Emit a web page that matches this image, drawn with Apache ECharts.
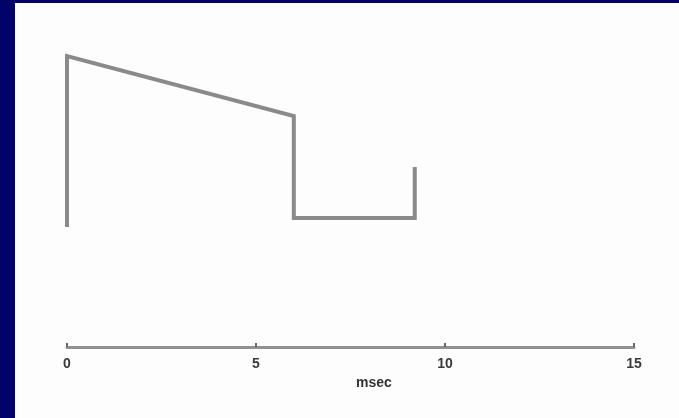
<!DOCTYPE html>
<html>
<head>
<meta charset="utf-8">
<script src="https://cdn.jsdelivr.net/npm/echarts@6/dist/echarts.min.js"></script>
<style>
html,body{margin:0;padding:0;width:679px;height:418px;background:#02026a;overflow:hidden;}
#c{position:absolute;left:15px;top:3px;width:664px;height:415px;background:#fdfdfd;}
</style>
</head>
<body>
<div id="c"></div>
<script>
// x in msec, y in arbitrary units (y axis hidden)
const xValues = [0, 0, 6, 6, 9.2, 9.2];
const yValues = [40, 97, 77, 43, 43, 60];
const xTicks = [0, 5, 10, 15];
const xAxisTitle = 'msec';

const chart = echarts.init(document.getElementById('c'));
chart.setOption({
  backgroundColor: '#fdfdfd',
  animation: false,
  grid: {left: 52, right: 45, top: 44, bottom: 71},
  xAxis: {
    type: 'value', min: 0, max: 15, interval: 5,
    axisLine: {lineStyle: {color: '#919191', width: 3}},
    axisTick: {show: true, inside: true, length: 4, lineStyle: {color: '#666', width: 2}},
    splitLine: {show: false},
    axisLabel: {
      margin: 10, color: '#3a3a3a', fontSize: 14, fontWeight: 'bold', fontFamily: 'Liberation Sans',
      formatter: v => xTicks.includes(v) ? String(v) : ''
    }
  },
  yAxis: {type: 'value', min: 0, max: 100, show: false},
  graphic: [{
    type: 'text', left: 341, top: 373,
    style: {text: xAxisTitle, fill: '#333', font: 'bold 14px "Liberation Sans"'}
  }],
  series: [{
    type: 'line',
    data: xValues.map((x, i) => [x, yValues[i]]),
    symbol: 'none',
    lineStyle: {color: '#8a8a8a', width: 4, join: 'miter'}
  }]
});
</script>
</body>
</html>
